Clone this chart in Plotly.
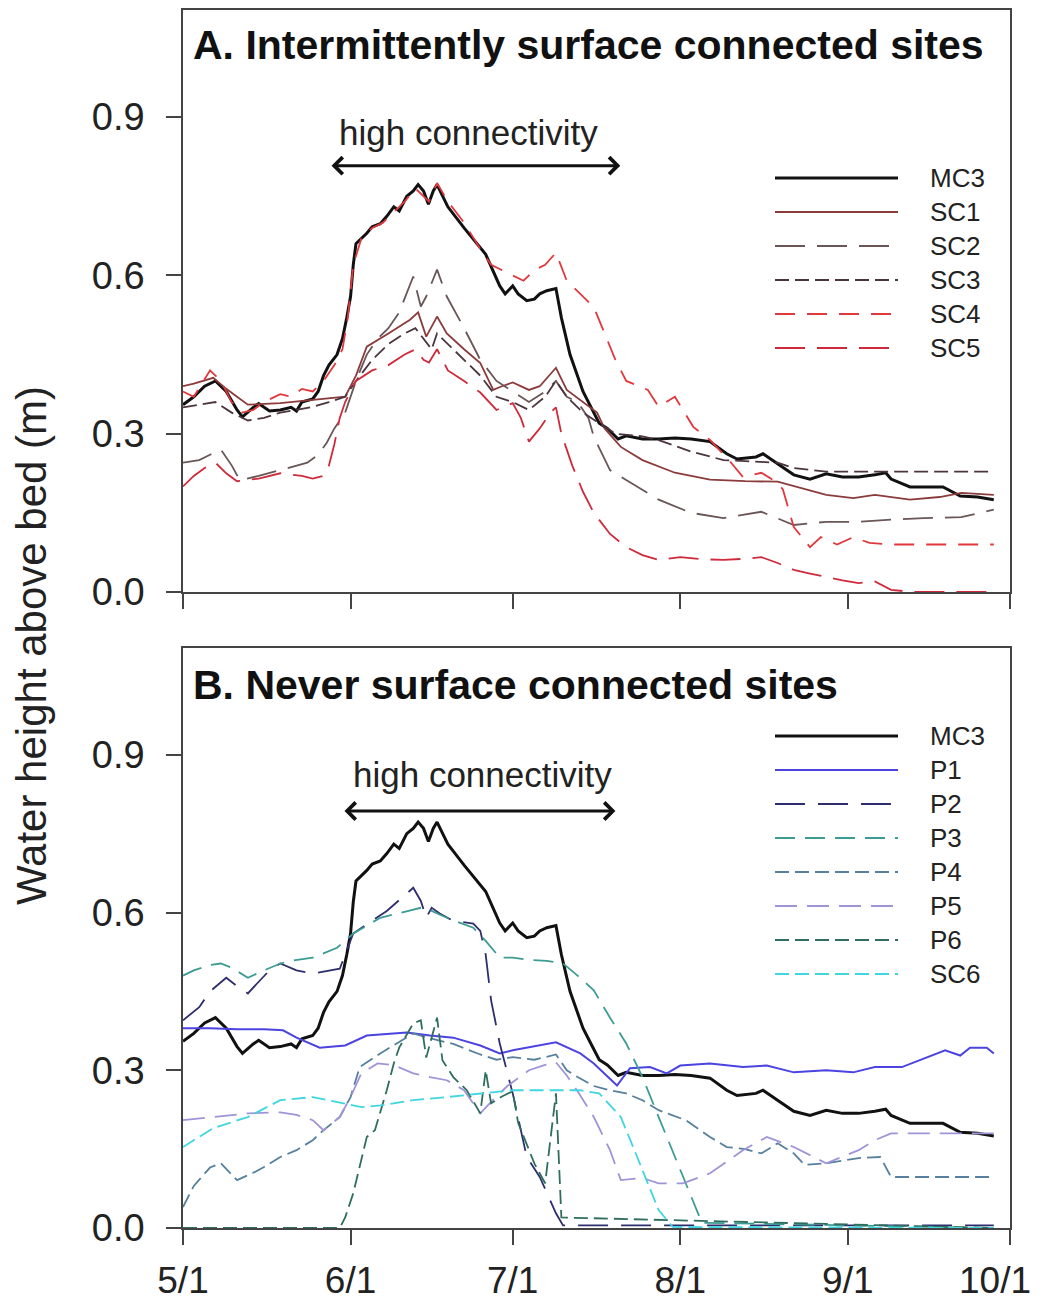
import pandas as pd
import plotly.graph_objects as go

# ---------------- data (day offsets from May 1, water height in m) ----------------
mc3_day = [0,2,4,6,8,10,11,13,14,16,18,20,21,22,24,25,26,27,28.5,29.5,30.3,31,31.5,32,34,35,36.5,37.7,39,40,
           41.4,42.6,43.5,44.5,45.4,46.3,47,48,49,52,56,58.6,59.6,61,62,63.6,65,66,67.3,69,70,71.6,73,74,75.5,77,
           78.5,80.5,82,85,88,91,94,97.5,100.6,102.5,106,107.3,110,113,116,119,122,125,128,130,131,134.5,137.6,
           140.6,143.8,147,150]
mc3_h = [0.355,0.37,0.39,0.40,0.38,0.345,0.332,0.35,0.357,0.343,0.345,0.35,0.343,0.36,0.366,0.38,0.41,0.43,0.45,0.48,
         0.52,0.56,0.62,0.66,0.68,0.692,0.698,0.712,0.73,0.722,0.75,0.76,0.772,0.76,0.735,0.76,0.772,0.75,0.73,0.69,
         0.64,0.58,0.565,0.58,0.565,0.552,0.555,0.565,0.571,0.575,0.52,0.45,0.41,0.38,0.35,0.32,0.31,0.29,0.296,0.29,
         0.29,0.292,0.29,0.285,0.262,0.252,0.256,0.262,0.243,0.222,0.214,0.224,0.218,0.218,0.222,0.226,0.214,0.199,0.199,0.199,
         0.182,0.18,0.175]

sc1_day = [0,2,5.6,8,10,12,18,24,30,32,34,38,42,43.5,45,47,48.8,52,55,57.4,59,61,64,66,69,71,74,76.6,78,81,
           85,91,97.5,104,110,115,119,124,128,134.5,140,144,150]
sc1_h = [0.39,0.395,0.406,0.385,0.37,0.355,0.358,0.364,0.37,0.41,0.465,0.49,0.516,0.53,0.484,0.522,0.49,0.46,0.434,0.383,
         0.39,0.397,0.383,0.39,0.425,0.383,0.36,0.34,0.31,0.275,0.25,0.226,0.213,0.21,0.209,0.195,0.184,0.178,0.184,0.175,
         0.18,0.188,0.184]

sc2_day = [0,3,5,7,9,10.5,14,18,23,25,26.6,28,30,32,34,36,38,40,42.6,44,45,47,48.8,52,55,58,61,64,67,69,
           71,73,75,76,79,84,88,94,100,107,113,119,125,131,137,144,150]
sc2_h = [0.245,0.25,0.26,0.27,0.24,0.212,0.22,0.231,0.245,0.26,0.283,0.31,0.34,0.40,0.45,0.48,0.50,0.53,0.598,0.541,
         0.56,0.611,0.56,0.50,0.44,0.40,0.38,0.36,0.38,0.40,0.37,0.36,0.33,0.294,0.231,0.20,0.175,0.15,0.14,0.152,
         0.127,0.133,0.133,0.137,0.14,0.142,0.156]

sc3_day = [0,3,6,9,12,15,18,21,24,27,30,32,35,38,41,43,44.5,46,47,49,52,55,58,61,64,67,69,71,74,77,
           80,85,88,94,100,110,113,119,150]
sc3_h = [0.35,0.355,0.36,0.34,0.325,0.33,0.34,0.345,0.351,0.36,0.37,0.40,0.44,0.47,0.49,0.50,0.48,0.46,0.49,0.47,
         0.44,0.41,0.37,0.36,0.345,0.37,0.40,0.37,0.34,0.32,0.30,0.295,0.288,0.266,0.25,0.245,0.235,0.228,0.228]

sc4_day = [0,2,5,7,9,11,13,15,18,20,22,24,26,28,29.5,30.5,31.5,33,35,37,39,41,43,44.5,45.5,47,49,52,55,57,
           59,61,63,65,67,69,71,73.5,76,78,80,82,86,88,91,94.4,97.5,101,103.6,107,110,111,113,116,118,121,124,127,131,150]
sc4_h = [0.38,0.37,0.42,0.40,0.36,0.34,0.345,0.36,0.375,0.37,0.385,0.38,0.40,0.43,0.46,0.52,0.62,0.67,0.69,0.70,
         0.72,0.74,0.765,0.75,0.74,0.775,0.74,0.70,0.65,0.62,0.61,0.60,0.59,0.61,0.62,0.643,0.59,0.565,0.54,0.49,
         0.44,0.40,0.383,0.351,0.37,0.313,0.288,0.25,0.218,0.226,0.207,0.194,0.123,0.085,0.104,0.09,0.104,0.093,0.09,0.09]

sc5_day = [0,2,4,6,8,10,14,18,22,24,26,27,28,29,30,32,35,38,41,43,44.5,45.5,47,49,52,55,58,61,62.5,64,
           66,68,69,70,72,74,76,79,82,85,88,92,96,100,104,107,110,113,116,119,122,125,128,131,135,150]
sc5_h = [0.20,0.22,0.235,0.245,0.225,0.21,0.215,0.225,0.22,0.215,0.22,0.24,0.28,0.33,0.36,0.40,0.42,0.43,0.45,0.46,
         0.44,0.435,0.46,0.42,0.40,0.378,0.345,0.358,0.33,0.285,0.31,0.34,0.35,0.30,0.24,0.19,0.15,0.11,0.085,0.07,
         0.061,0.066,0.062,0.061,0.063,0.066,0.055,0.042,0.035,0.028,0.022,0.017,0.02,0.004,0.0,0.0]

p1_day = [0,5,10,15,18.5,21,25.3,30,34,41.4,45.7,50,55,58.6,61,65,69,73.5,76,80.3,
          82.7,86.4,89.5,92,97.5,103.6,108,113,119,124,128,133,137.6,141,143.8,145.6,148.7,150]
p1_h = [0.38,0.38,0.378,0.378,0.376,0.362,0.343,0.347,0.366,0.372,0.366,0.362,0.347,0.332,0.338,0.345,0.353,0.332,0.313,0.271,
        0.304,0.306,0.294,0.309,0.313,0.306,0.309,0.296,0.30,0.296,0.306,0.306,0.324,0.338,0.328,0.343,0.343,0.332]

p2_day = [0,3,5,8,10,12,13.7,16,18,21,24,27,29,31.5,35,37.7,41.4,42.6,44,45,46,47.5,50,53.7,55,56,57,58.6,61,63.6,
          66,69,70.3,75,150]
p2_h = [0.395,0.42,0.45,0.476,0.46,0.446,0.465,0.49,0.503,0.49,0.484,0.49,0.493,0.56,0.584,0.603,0.636,0.647,0.622,0.59,
        0.609,0.598,0.584,0.579,0.565,0.52,0.433,0.351,0.256,0.135,0.097,0.028,0.005,0.005,0.005]

p3_day = [0,2,5,7,9,12,15,18,20,24,28.5,31.5,36.5,41.4,44,46,48.8,53.7,56,58.6,61,64,67.3,70.3,73,76,79,82,85,88,
          91,93,94.4,96,150]
p3_h = [0.48,0.49,0.50,0.503,0.495,0.476,0.49,0.503,0.508,0.514,0.533,0.56,0.59,0.603,0.609,0.603,0.59,0.571,0.546,0.514,
        0.514,0.51,0.508,0.503,0.48,0.452,0.40,0.351,0.287,0.211,0.135,0.085,0.047,0.01,0.0]

p4_day = [0,2,5,7,10,13,15,18,21,24,26,29,31,32.7,36.5,39.6,42.6,46,50,55,58,61,65,69,71,73,76,79,82,85,
          88,93,97.5,100.6,104,107,110,113,115,119,125,129,131,150]
p4_h = [0.04,0.08,0.115,0.123,0.091,0.105,0.116,0.135,0.148,0.167,0.186,0.211,0.249,0.306,0.332,0.351,0.37,0.36,0.35,0.33,
        0.32,0.325,0.32,0.33,0.30,0.287,0.27,0.262,0.256,0.243,0.224,0.205,0.173,0.154,0.15,0.142,0.161,0.142,0.12,0.123,
        0.133,0.135,0.097,0.097]

p5_day = [0,5.6,12,18,21,24,26,29,31,33,36,39,42.6,45.7,48.8,52,55,57,60,64,67,69,71,73,76,79,81,85,88,92.5,
          97.5,103.6,108,113,119,125,128,131,150]
p5_h = [0.205,0.211,0.218,0.22,0.215,0.205,0.186,0.211,0.249,0.294,0.313,0.31,0.294,0.287,0.281,0.262,0.218,0.24,0.27,0.30,
        0.31,0.315,0.29,0.26,0.211,0.148,0.091,0.095,0.085,0.085,0.104,0.148,0.173,0.154,0.123,0.148,0.167,0.18,0.18]

p6_day = [0,29,30,31.5,34,35.5,37.7,39,40,42.6,44,45,47,48,50,52.5,55,56,57,59,61,62,65,67,69,70,150]
p6_h = [0.0,0.0,0.02,0.066,0.173,0.186,0.262,0.313,0.343,0.389,0.395,0.324,0.40,0.319,0.287,0.262,0.218,0.30,0.237,0.25,
        0.26,0.2,0.123,0.085,0.256,0.02,0.0]

sc6_day = [0,3,5.6,12,18,24,30,33,36.5,42.6,48.8,55,61,67,73.5,77,81,83,86,88,90.6,150]
sc6_h = [0.154,0.173,0.19,0.211,0.243,0.249,0.237,0.23,0.233,0.243,0.249,0.256,0.262,0.262,0.262,0.256,0.211,0.161,0.085,0.034,
         0.002,0.0]

tick_months = ["5/1", "6/1", "7/1", "8/1", "9/1", "10/1"]
tick_days = [0, 31, 61, 92, 123, 153]
y_ticks = [0.0, 0.3, 0.6, 0.9]

# ---------------- helpers ----------------
BASE = pd.Timestamp("2013-05-01")


def to_dates(days):
    return [BASE + pd.Timedelta(days=d) for d in days]


FONT = "Liberation Sans, Arial, sans-serif"

# (name, days, values, color, width, dash)
panel_a = [
    ("MC3", mc3_day, mc3_h, "#111111", 3.0, "solid"),
    ("SC1", sc1_day, sc1_h, "#8c3b3b", 1.8, "solid"),
    ("SC2", sc2_day, sc2_h, "#6a5656", 1.8, "30px,12px"),
    ("SC3", sc3_day, sc3_h, "#4c3440", 1.8, "14px,6px"),
    ("SC4", sc4_day, sc4_h, "#e0383d", 1.8, "20px,12px"),
    ("SC5", sc5_day, sc5_h, "#cf2a3c", 1.8, "30px,12px"),
]
panel_b = [
    ("MC3", mc3_day, mc3_h, "#111111", 3.0, "solid"),
    ("P1", p1_day, p1_h, "#4b44e0", 2.0, "solid"),
    ("P2", p2_day, p2_h, "#2e2e6e", 1.8, "30px,13px"),
    ("P3", p3_day, p3_h, "#3c9c94", 1.8, "20px,10px"),
    ("P4", p4_day, p4_h, "#56809e", 1.8, "14px,6px"),
    ("P5", p5_day, p5_h, "#9f94d8", 1.8, "22px,10px"),
    ("P6", p6_day, p6_h, "#2f6e5e", 1.8, "14px,6px"),
    ("SC6", sc6_day, sc6_h, "#3fd6e0", 1.8, "14px,6px"),
]

fig = go.Figure()
for name, d, h, col, w, dash in panel_a:
    fig.add_trace(go.Scatter(x=to_dates(d), y=h, mode="lines", name=name, showlegend=False,
                             line=dict(color=col, width=w, dash=dash), xaxis="x", yaxis="y"))
for name, d, h, col, w, dash in panel_b:
    fig.add_trace(go.Scatter(x=to_dates(d), y=h, mode="lines", name=name, showlegend=False,
                             line=dict(color=col, width=w, dash=dash), xaxis="x2", yaxis="y2"))

# ---------------- layout geometry (pixels) ----------------
W, H = 1040, 1308
L, R, T, B = 183, 1010, 10, 1228
PW, PH = R - L, B - T


def px_x(px):
    return (px - L) / PW


def px_y(py):
    return (B - py) / PH


axis_common = dict(showline=True, linecolor="#444444", linewidth=1.5, mirror=True,
                   ticks="outside", ticklen=15, tickwidth=1.5, tickcolor="#444444",
                   showgrid=False, zeroline=False, automargin=False,
                   tickfont=dict(family=FONT, size=38, color="#222222"))
xr = [BASE, BASE + pd.Timedelta(days=153)]
# the last month label is placed as an annotation so it stays inside the page
x_ticktext = tick_months[:-1] + [""]
xa = dict(axis_common, type="date", range=xr, tickvals=to_dates(tick_days), ticktext=x_ticktext,
          ticklabelstandoff=4, tickfont=dict(family=FONT, size=37, color="#222222"))
ya = dict(axis_common, range=[0, 1.103], tickvals=y_ticks, ticktext=[f"{v:.1f}" for v in y_ticks],
          ticklabelstandoff=14)

fig.update_layout(
    width=W, height=H,
    margin=dict(l=L, r=W - R, t=T, b=H - B, autoexpand=False),
    paper_bgcolor="white", plot_bgcolor="white",
    font=dict(family=FONT, color="#222222"),
    showlegend=False,
    xaxis=dict(xa, domain=[0, 1], anchor="y", showticklabels=False),
    yaxis=dict(ya, domain=[px_y(592), 1.0], anchor="x"),
    xaxis2=dict(xa, domain=[0, 1], anchor="y2"),
    yaxis2=dict(ya, domain=[0, px_y(648)], anchor="x2"),
)

annotations = []
shapes = []

# last x tick label
annotations.append(dict(text=tick_months[-1], xref="paper", yref="paper", x=px_x(1033), y=px_y(1280),
                        xanchor="right", yanchor="middle", showarrow=False,
                        font=dict(family=FONT, size=37, color="#222222")))

# panel titles
annotations.append(dict(text="<b>A. Intermittently surface connected sites</b>", xref="paper", yref="paper",
                        x=px_x(191), y=px_y(45), xanchor="left", yanchor="middle", showarrow=False,
                        font=dict(family=FONT, size=41, color="#111111")))
annotations.append(dict(text="<b>B. Never surface connected sites</b>", xref="paper", yref="paper",
                        x=px_x(191), y=px_y(685), xanchor="left", yanchor="middle", showarrow=False,
                        font=dict(family=FONT, size=41, color="#111111")))

# shared y title
annotations.append(dict(text="Water height above bed (m)", xref="paper", yref="paper",
                        x=px_x(31), y=px_y(646), xanchor="center", yanchor="middle", textangle=-90,
                        showarrow=False, font=dict(family=FONT, size=42, color="#222222")))

# high connectivity labels and arrows
for xref, yref, tx, ty, a0, a1, ay in [("x", "y", 52.9, 0.871, 27.2, 80.9, 0.808),
                                        ("x2", "y2", 55.5, 0.863, 29.6, 80.0, 0.793)]:
    annotations.append(dict(text="high connectivity", xref=xref, yref=yref, x=BASE + pd.Timedelta(days=tx), y=ty,
                            xanchor="center", yanchor="middle", showarrow=False,
                            font=dict(family=FONT, size=35, color="#222222")))
    annotations.append(dict(text="", xref=xref, yref=yref, axref=xref, ayref=yref,
                            x=BASE + pd.Timedelta(days=a1), y=ay, ax=BASE + pd.Timedelta(days=a0), ay=ay,
                            showarrow=True, arrowside="end+start", arrowhead=4, startarrowhead=4,
                            arrowsize=1.1, startarrowsize=1.1, arrowwidth=3, arrowcolor="#111111",
                            standoff=0, startstandoff=0))


# custom legends
def add_legend(entries, top_py):
    for i, (name, d, h, col, w, dash) in enumerate(entries):
        py = top_py + 34 * i
        shapes.append(dict(type="line", xref="paper", yref="paper", x0=px_x(775), x1=px_x(898),
                           y0=px_y(py), y1=px_y(py), line=dict(color=col, width=w, dash=dash)))
        annotations.append(dict(text=name, xref="paper", yref="paper", x=px_x(928), y=px_y(py),
                                xanchor="left", yanchor="middle", showarrow=False,
                                font=dict(family=FONT, size=26, color="#222222")))


add_legend(panel_a, 178)
add_legend(panel_b, 736)

fig.update_layout(annotations=annotations, shapes=shapes)
fig.write_html("out.html")
